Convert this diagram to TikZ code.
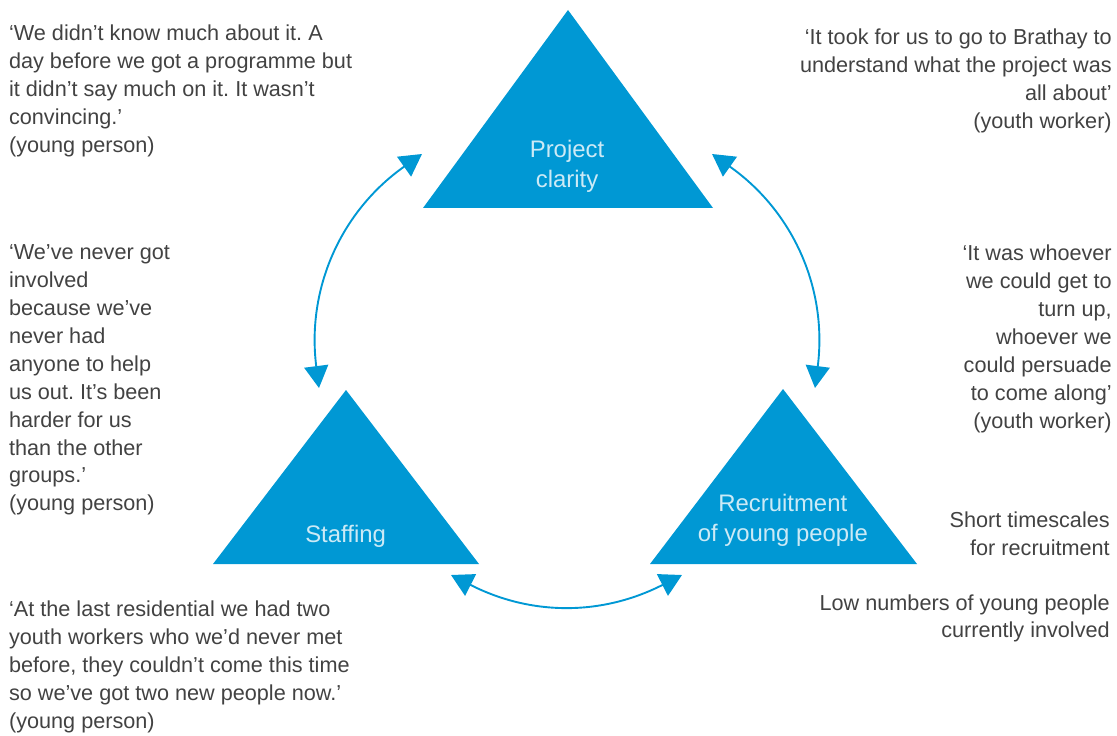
\documentclass[tikz,border=0pt]{standalone}
\usepackage{fontspec}
\setmainfont{Liberation Sans}
\usepackage{tikz}
\usetikzlibrary{arrows.meta, positioning}
\definecolor{triblue}{RGB}{0, 152, 212}
\definecolor{quotegray}{RGB}{66, 66, 66}
\frenchspacing

\begin{document}
\begin{tikzpicture}[
    every node/.style={inner sep=0pt},
    tri/.style={fill=triblue},
    trilabel/.style={align=center, text=white!80!triblue, font=\fontsize{17}{21.5}\selectfont},
    saying/.style={align=left, text=quotegray, font=\fontsize{15.4}{19.9}\selectfont},
    sayingR/.style={saying, align=right},
    twoway/.style={{Triangle[length=5.5mm, width=6mm]}-{Triangle[length=5.5mm, width=6mm]}, line width=1.35pt, draw=triblue}
]
\useasboundingbox (0,0) rectangle (27.925,-18.4);

% Triangles
\fill[tri] (10.575,-5.2) -- (14.2,-0.25) -- (17.825,-5.2) -- cycle;
\fill[tri] (5.325,-14.1) -- (8.65,-9.75) -- (11.975,-14.1) -- cycle;
\fill[tri] (16.25,-14.1) -- (19.575,-9.725) -- (22.925,-14.1) -- cycle;

\node[trilabel] (clarity) at (14.175,-4.15) {Project\\clarity};
\node[trilabel] (staffing) at (8.64,-13.42) {Staffing};
\node[trilabel] (recruit) at (19.57,-13.0) {Recruitment\\of young people};

% Arrow ends
\coordinate (clarityL) at (10.55,-3.85);
\coordinate (clarityR) at (17.8,-3.85);
\coordinate (staffingT) at (7.975,-9.7);
\coordinate (staffingR) at (11.275,-14.375);
\coordinate (recruitT) at (20.375,-9.7);
\coordinate (recruitL) at (17.05,-14.375);

% Arrows
\draw[twoway] (staffingT) to[bend left=31] (clarityL);
\draw[twoway] (clarityR) to[bend left=31] (recruitT);
\draw[twoway] (recruitL) to[bend left=27] (staffingR);

% Quotes, left side
\node[saying, anchor=north west] (q1) at (0.22,-0.625) {`We didn't know much about it. A\\day before we got a programme but\\it didn't say much on it. It wasn't\\convincing.'\\(young person)};
\node[saying, anchor=north west] (q2) at (0.22,-6.1) {`We've never got\\involved\\because we've\\never had\\anyone to help\\us out. It's been\\harder for us\\than the other\\groups.'\\(young person)};
\node[saying, anchor=north west] (q3) at (0.22,-15.025) {`At the last residential we had two\\youth workers who we'd never met\\before, they couldn't come this time\\so we've got two new people now.'\\(young person)};

% Quotes, right side
\node[sayingR, anchor=north east] (q4) at (27.8,-0.725) {`It took for us to go to Brathay to\\understand what the project was\\all about'\\(youth worker)};
\node[sayingR, anchor=north east] (q5) at (27.8,-6.125) {`It was whoever\\we could get to\\turn up,\\whoever we\\could persuade\\to come along'\\(youth worker)};
\node[sayingR, anchor=north east] (timescales) at (27.75,-12.8) {Short timescales\\for recruitment};
\node[sayingR, below=0.94cm of timescales.south east, anchor=north east] (numbers) {Low numbers of young people\\currently involved};

\end{tikzpicture}
\end{document}
